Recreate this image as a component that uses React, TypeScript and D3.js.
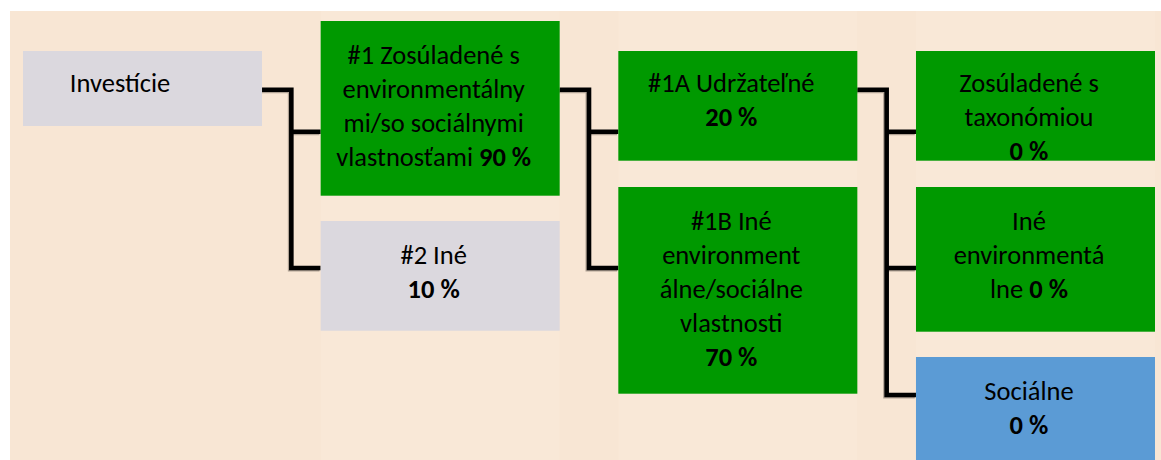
import React from 'react';
import * as d3 from 'd3';

// tree structure
const nodeIds = ['inv', 'n1', 'n2', 'n1A', 'n1B', 'tax', 'env', 'soc'];
const nodeParents = ['', 'inv', 'inv', 'n1', 'n1', 'n1A', 'n1A', 'n1A'];
const nodeKinds = ['gray', 'green', 'gray', 'green', 'green', 'green', 'green', 'blue'];
const nodeShares = ['', '90 %', '10 %', '20 %', '70 %', '0 %', '0 %', '0 %'];
// {v} marks where the bold share goes
const nodeLines = [
  ['Investície'],
  ['#1 Zosúladené s', 'environmentálny', 'mi/so sociálnymi', 'vlastnosťami {v}'],
  ['#2 Iné', '{v}'],
  ['#1A Udržateľné', '{v}'],
  ['#1B Iné', 'environment', 'álne/sociálne', 'vlastnosti', '{v}'],
  ['Zosúladené s', 'taxonómiou', '{v}'],
  ['Iné', 'environmentá', 'lne {v}'],
  ['Sociálne', '{v}'],
];

const W = 1161;
const H = 460;
const FONT = 'Calibri, Carlito, Lato, sans-serif';

const fills: Record<string, string> = { gray: '#dbd8de', green: '#009900', blue: '#5b9bd5' };

// vertical extents of each box [top, bottom, first baseline]
const boxY: Record<string, [number, number, number]> = {
  inv: [51, 126, 91.7],
  n1: [21, 195.7, 63.5],
  n2: [221, 330.7, 263.5],
  n1A: [51, 160.7, 92],
  n1B: [187, 393.7, 229.5],
  tax: [51, 160.7, 92],
  env: [187, 331.7, 229.5],
  soc: [357, 470, 399.5],
};
const textDx: Record<string, number> = { inv: -16 };
const lineH = 34;
const exitY = 89.8;
const entryY = [131.7, 268, 395];

export default function App() {
  const rows = nodeIds.map((id, i) => ({
    id,
    parent: nodeParents[i] || null,
    kind: nodeKinds[i],
    share: nodeShares[i],
    lines: nodeLines[i],
  }));
  const root = d3
    .stratify<any>()
    .id((d) => d.id)
    .parentId((d) => d.parent)(rows);
  const nodes = root.descendants();

  const x = d3
    .scaleBand<number>()
    .domain(d3.range(root.height + 1))
    .range([23, 1155])
    .paddingInner(0.197)
    .paddingOuter(0);
  const bw = x.bandwidth();
  const gap = x.step() - bw;

  const links: string[] = [];
  nodes.forEach((p) => {
    if (!p.children) return;
    const px = (x(p.depth) as number) + bw;
    const ex = px + gap / 2;
    const cx = x(p.depth + 1) as number;
    const last = p.children.length - 1;
    links.push(`M${px},${exitY}H${ex}V${entryY[last]}H${cx}`);
    p.children.forEach((c, i) => {
      if (i < last) links.push(`M${ex},${entryY[i]}H${cx}`);
    });
  });

  return (
    <svg
      width={W}
      height={H}
      style={{ position: 'absolute', left: 0, top: 0, display: 'block' }}
      fontFamily={FONT}
    >
      <rect x={10} y={11} width={W - 10} height={H - 11} fill="#f8e6d4" />
      {d3.range(1, root.height + 1).map((d) => (
        <rect key={d} x={x(d)} y={11} width={bw} height={H - 11} fill="#f9e8d7" />
      ))}
      <g fill="none" strokeWidth={4.6} strokeLinejoin="miter">
        <path d={links.join('')} stroke="#b0a294" transform="translate(-1.2,1.2)" />
        <path d={links.join('')} stroke="#000" />
      </g>
      {nodes.map((n) => {
        const [y0, y1, base] = boxY[n.id as string];
        const bx = x(n.depth) as number;
        const tx = bx + bw / 2 - 6.5 + (textDx[n.id as string] || 0);
        const d: any = n.data;
        return (
          <g key={n.id}>
            <rect x={bx} y={y0} width={bw} height={y1 - y0} fill={fills[d.kind]} />
            {d.lines.map((ln: string, i: number) => {
              const parts = ln.split('{v}');
              return (
                <text key={i} x={tx} y={base + i * lineH} textAnchor="middle" fontSize={26.5} fill="#000">
                  {parts[0] && <tspan>{parts[0]}</tspan>}
                  {parts.length > 1 && <tspan fontWeight="bold">{d.share}</tspan>}
                </text>
              );
            })}
          </g>
        );
      })}
    </svg>
  );
}
